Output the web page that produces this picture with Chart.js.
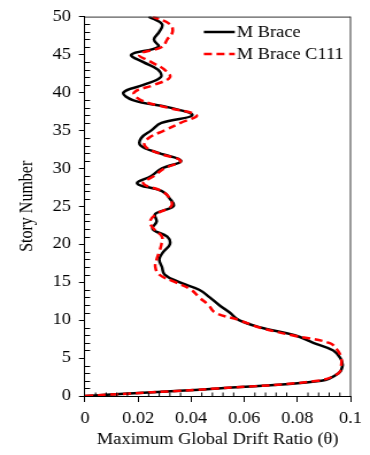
<!DOCTYPE html>
<html>
<head>
<meta charset="utf-8">
<script src="https://cdn.jsdelivr.net/npm/chart.js@4/dist/chart.umd.min.js"></script>
<style>
html,body{margin:0;padding:0;background:#fff;overflow:hidden;}
#c{display:block;}
</style>
</head>
<body>
<canvas id="c" style="width:370px;height:455px;"></canvas>
<script>
// ---- data ----
const stories = [0,1,2,3,4,5,6,7,8,9,10,11,12,13,14,15,16,17,18,19,20,21,22,23,24,25,26,27,28,29,30,31,32,33,34,35,36,37,38,39,40,41,42,43,44,45,46,47,48,49,50];
const mBrace = [0,0.050,0.089,0.0955,0.097,0.0962,0.0935,0.086,0.079,0.0665,0.058,0.0545,0.0505,0.047,0.043,0.0355,0.030,0.029,0.028,0.0295,0.032,0.031,0.0255,0.027,0.0265,0.0333,0.032,0.029,0.0197,0.025,0.029,0.0362,0.028,0.021,0.0212,0.025,0.0288,0.0404,0.032,0.018,0.0145,0.022,0.0285,0.0275,0.022,0.0175,0.0276,0.026,0.028,0.029,0.024];
const mBraceC111 = [0,0.050,0.0875,0.0955,0.0965,0.0965,0.0952,0.092,0.078,0.066,0.058,0.049,0.0465,0.043,0.040,0.034,0.028,0.0265,0.027,0.028,0.0288,0.029,0.026,0.0245,0.027,0.0325,0.032,0.029,0.022,0.026,0.030,0.036,0.0276,0.0225,0.024,0.030,0.036,0.042,0.031,0.021,0.0185,0.026,0.032,0.030,0.025,0.0205,0.029,0.031,0.033,0.032,0.0255];
const seriesNames = ['M Brace', 'M Brace C111'];
const xTickValues = [0, 0.02, 0.04, 0.06, 0.08, 0.1];
const yTickValues = [0, 5, 10, 15, 20, 25, 30, 35, 40, 45, 50];
const xMinorStep = 0.004;
const yMinorStep = 1;

// ---- layout (horizontal stretch like the reference) ----
const SX = 1.15;
const W = Math.round(370 / SX), H = 455;
const canvas = document.getElementById('c');
canvas.width = W; canvas.height = H;
canvas.style.width = '370px'; canvas.style.height = '455px';
const FONT = "'Liberation Serif', 'Times New Roman', serif";

const toPts = arr => stories.map((s, i) => ({x: arr[i], y: s}));

const framePlugin = {
  id: 'frame',
  afterDraw(chart) {
    const {ctx, chartArea: a, scales: {x, y}} = chart;
    ctx.save();
    ctx.strokeStyle = '#000';
    ctx.lineWidth = 1;
    ctx.beginPath();
    for (let v = 0; v <= 50 + 1e-9; v += yMinorStep) {
      if (Math.abs(v % 5) < 1e-9) continue;
      const py = Math.round(y.getPixelForValue(v)) + 0.5;
      ctx.moveTo(a.left, py); ctx.lineTo(a.left + 4.5, py);
    }
    for (let k = 1; k * xMinorStep < 0.1 - 1e-9; k++) {
      if (k % 5 === 0) continue;
      const px = x.getPixelForValue(k * xMinorStep);
      ctx.moveTo(px, a.bottom); ctx.lineTo(px, a.bottom - 3.5);
    }
    ctx.stroke();
    ctx.strokeStyle = '#333';
    ctx.beginPath();
    ctx.moveTo(a.left, a.top + 0.5); ctx.lineTo(a.right, a.top + 0.5);
    ctx.moveTo(a.right, a.top); ctx.lineTo(a.right, a.bottom);
    ctx.stroke();

    // legend
    const ds = chart.data.datasets;
    const order = [1, 0];
    order.forEach((di, row) => {
      const d = ds[di];
      const yy = 32 + row * 22;
      ctx.strokeStyle = d.borderColor;
      ctx.lineWidth = d.borderWidth;
      ctx.setLineDash(d.borderDash || []);
      ctx.beginPath();
      ctx.moveTo(204 / SX, yy); ctx.lineTo(235 / SX, yy);
      ctx.stroke();
      ctx.setLineDash([]);
      ctx.fillStyle = '#000';
      ctx.font = '16px ' + FONT;
      ctx.textBaseline = 'middle';
      ctx.textAlign = 'left';
      ctx.fillText(d.label, 237 / SX, yy + 0.5);
    });
    ctx.restore();
  }
};

new Chart(canvas, {
  type: 'scatter',
  data: {
    datasets: [
      {label: seriesNames[1], data: toPts(mBraceC111), showLine: true, borderColor: '#ff0000', borderWidth: 2.5, borderDash: [7, 4], pointRadius: 0, tension: 0.4, fill: false, order: 0},
      {label: seriesNames[0], data: toPts(mBrace), showLine: true, borderColor: '#000000', borderWidth: 2.5, pointRadius: 0, tension: 0.4, fill: false, order: 1}
    ]
  },
  options: {
    responsive: false,
    animation: false,
    devicePixelRatio: 1,
    layout: {padding: {left: 0, top: 15, right: W - 357 / SX, bottom: 0}},
    plugins: {legend: {display: false}, tooltip: {enabled: false}},
    scales: {
      x: {
        type: 'linear', min: 0, max: 0.1,
        afterBuildTicks: s => { s.ticks = xTickValues.map(v => ({value: v})); },
        afterFit: s => { s.height = H - 396; },
        grid: {drawOnChartArea: false, drawTicks: true, tickLength: 6, color: '#000'},
        border: {color: '#000', width: 1},
        ticks: {
          color: '#000', padding: 7, maxRotation: 0, autoSkip: false,
          font: {family: FONT, size: 16},
          callback: v => (v === 0 ? '0' : String(+v.toFixed(2)))
        },
        title: {display: true, text: 'Maximum Global Drift Ratio (θ)', color: '#000', font: {family: FONT, size: 16}, padding: {top: 0, bottom: 6}}
      },
      y: {
        type: 'linear', min: 0, max: 50,
        afterBuildTicks: s => { s.ticks = yTickValues.map(v => ({value: v})); },
        afterFit: s => { s.width = 85 / SX; },
        grid: {drawOnChartArea: false, drawTicks: true, tickLength: 5.2, color: '#000'},
        border: {color: '#000', width: 1},
        ticks: {color: '#000', padding: 7, autoSkip: false, font: {family: FONT, size: 16}},
        title: {display: true, text: 'Story Number', color: '#000', font: {family: FONT, size: 16}, padding: {top: 14.5, bottom: 0}}
      }
    }
  },
  plugins: [framePlugin]
});
</script>
</body>
</html>
